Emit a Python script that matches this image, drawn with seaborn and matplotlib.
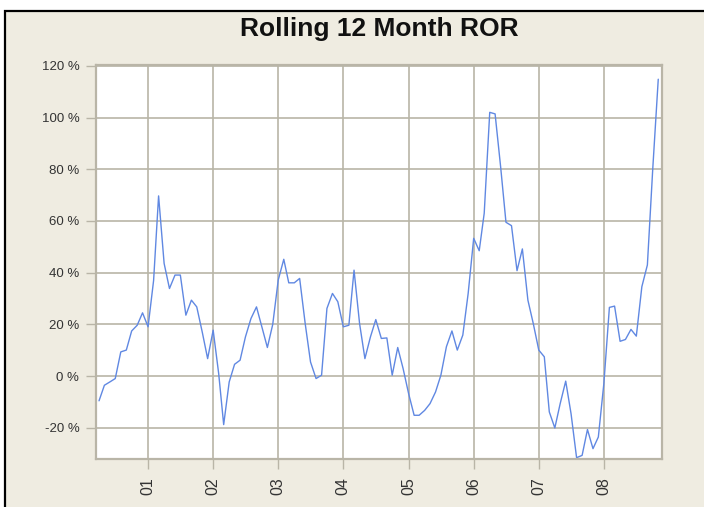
import numpy as np
import pandas as pd
import matplotlib
matplotlib.use("Agg")
import matplotlib.pyplot as plt
from matplotlib.patches import Rectangle
import seaborn as sns

# ---- data ----
ror_2000 = [-9.5, -3.5, -2.2, -0.9, 9.4, 10.1, 17.5, 19.7, 24.5]  # Apr-Dec
ror_2001 = [19.1, 37.0, 69.7, 43.6, 33.9, 39.1, 39.1, 23.6, 29.4, 26.8, 17.0, 6.8]
ror_2002 = [17.8, 1.0, -18.7, -2.2, 4.6, 6.2, 15.2, 22.3, 26.8, 19.1, 11.1, 20.0]
ror_2003 = [37.2, 45.2, 36.1, 36.1, 37.8, 20.4, 5.5, -0.9, 0.4, 26.2, 32.0, 28.8]
ror_2004 = [19.1, 19.7, 41.0, 20.4, 6.8, 15.2, 21.9, 14.6, 14.8, 0.4, 11.1, 3.0]
ror_2005 = [-6.7, -15.1, -15.1, -13.2, -10.6, -6.1, 0.4, 11.4, 17.5, 10.1, 15.9, 32.0]
ror_2006 = [53.3, 48.5, 63.0, 102.0, 101.4, 81.0, 59.5, 58.2, 40.8, 49.2, 29.4, 20.4]
ror_2007 = [10.1, 7.5, -13.8, -20.0, -10.6, -1.9, -14.5, -31.5, -30.6, -20.6, -28.0, -23.5]
ror_2008 = [-2.8, 26.6, 27.1, 13.5, 14.2, 18.1, 15.5, 34.6, 43.0, 80.0, 114.8]  # Jan-Nov

ror = (ror_2000 + ror_2001 + ror_2002 + ror_2003 + ror_2004 + ror_2005
       + ror_2006 + ror_2007 + ror_2008)
dates = pd.date_range("2000-04-01", periods=len(ror), freq="MS")

year_ticks = ["2001-01-01", "2002-01-01", "2003-01-01", "2004-01-01",
              "2005-01-01", "2006-01-01", "2007-01-01", "2008-01-01"]
year_labels = ["01", "02", "03", "04", "05", "06", "07", "08"]
y_ticks = [-20, 0, 20, 40, 60, 80, 100, 120]
y_labels = [f"{v} %" for v in y_ticks]

df = pd.DataFrame({"date": dates, "ror": ror})

# ---- style ----
sns.set_theme(style="white")
plt.rcParams["font.family"] = ["Liberation Sans", "DejaVu Sans"]

bg = "#EFECE1"
gridc = "#B9B5A7"

fig = plt.figure(figsize=(7.04, 5.07), dpi=100, facecolor="white")
W, H = 704, 507
fig.patches.append(Rectangle((5 / W, -0.05), 1.5, (H - 11) / H + 0.05,
                             transform=fig.transFigure, facecolor=bg,
                             edgecolor="black", linewidth=1.6, zorder=-10))

ax = fig.add_axes([96 / W, 1 - 459 / H, (662 - 96) / W, (459 - 65) / H])
ax.set_facecolor("white")

sns.lineplot(data=df, x="date", y="ror", ax=ax, color="#6088E2", linewidth=1.0)

ax.set_xlim(pd.Timestamp("2000-03-15"), pd.Timestamp("2008-11-22"))
ax.set_ylim(-32, 120.3)
ax.set_xticks(pd.to_datetime(year_ticks))
ax.set_xticklabels(year_labels, rotation=90, fontsize=11.5, color="#333333")
ax.set_yticks(y_ticks)
ax.set_yticklabels(y_labels, fontsize=9.5, color="#333333")
ax.set_xlabel("")
ax.set_ylabel("")

ax.grid(True, color=gridc, linewidth=1.2)
ax.set_axisbelow(True)
for s in ax.spines.values():
    s.set_color(gridc)
    s.set_linewidth(1.6)
ax.tick_params(axis="y", which="major", length=7, width=1.0, color=gridc,
               direction="out", pad=5, left=True)
ax.tick_params(axis="x", which="major", length=7, width=1.0, color=gridc,
               direction="out", pad=6, bottom=True)

fig.text((96 + 662) / 2 / W, 1 - 29 / H, "Rolling 12 Month ROR",
         ha="center", va="center", fontsize=19, fontweight="bold", color="#111111")

fig.savefig("out.png", dpi=100, facecolor=fig.get_facecolor())
